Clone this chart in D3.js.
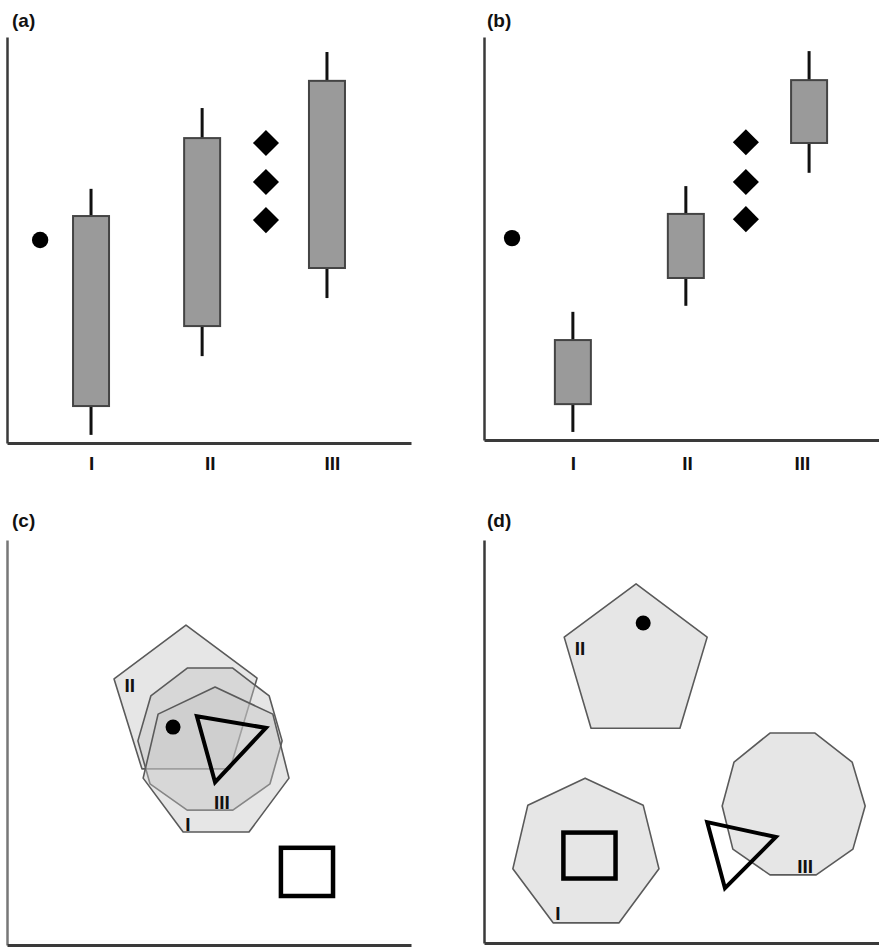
<!DOCTYPE html>
<html>
<head>
<meta charset="utf-8">
<script src="https://cdn.jsdelivr.net/npm/d3@7"></script>
<style>
  html, body { margin: 0; padding: 0; background: #fff; }
  svg { display: block; }
  text { font-family: "Liberation Sans", Arial, sans-serif; font-weight: bold; fill: #111; }
</style>
</head>
<body>
<svg id="chart" width="879" height="947"></svg>
<script>
// ---------- DATA ----------
const panelLabels = ["(a)", "(b)", "(c)", "(d)"];
const boxCategories = ["I", "II", "III"];

// Panel (a) box plots (units 0..100)
const aCenters = [20.8, 48.3, 79.2];
const aMin = [2.0, 21.4, 35.7];
const aQ1 = [9.1, 28.8, 43.1];
const aQ3 = [55.9, 75.1, 89.2];
const aMax = [62.6, 82.5, 96.3];
const aTickPos = [20.8, 50.2, 80.4];
const aDiamondX = 64.1;
const aDiamondY = [73.9, 64.3, 54.9];
const aDot = [8.2, 50.0];

// Panel (b) box plots
const bCenters = [22.5, 51.1, 82.3];
const bMin = [2.0, 33.3, 66.3];
const bQ1 = [8.9, 40.2, 73.7];
const bQ3 = [24.8, 56.1, 89.3];
const bMax = [31.8, 63.0, 96.5];
const bTickPos = [22.5, 51.4, 80.5];
const bDiamondX = 66.3;
const bDiamondY = [73.9, 64.0, 54.8];
const bDot = [7.1, 50.1];

// Panel (c) polygons (vertex lists, units 0..100)
const cPentagonII = [[44.3, 79.0], [61.9, 65.9], [55.2, 43.5], [33.4, 43.5], [26.5, 65.7]];
const cDecagonIII = [[44.7, 68.4], [55.8, 68.4], [64.9, 61.5], [68.1, 50.4], [65.1, 39.8],
                     [55.9, 33.3], [44.6, 33.3], [35.4, 39.8], [32.4, 50.4], [35.6, 61.5]];
const cHeptagonI = [[51.5, 63.7], [65.8, 57.0], [69.8, 41.2], [59.9, 27.9], [43.6, 27.9],
                    [33.7, 41.2], [37.4, 57.0]];
const cDot = [41.1, 53.8];
const cTriangle = [[47.0, 56.5], [64.1, 53.6], [51.5, 40.2]];
const cSquare = [[67.8, 24.0], [80.7, 12.1]];
const cLabels = [["II", 30.4, 64.2], ["III", 53.2, 35.3], ["I", 44.8, 29.9]];

// Panel (d) polygons
const dPentagonII = [[38.5, 89.1], [56.5, 75.9], [49.6, 53.3], [27.1, 53.3], [20.3, 75.9]];
const dHeptagonI = [[25.6, 40.9], [40.3, 34.2], [44.3, 18.4], [34.2, 5.0], [17.5, 5.0],
                    [7.3, 18.4], [11.1, 34.2]];
const dDecagonIII = [[72.4, 52.1], [83.8, 52.1], [93.2, 44.9], [96.5, 34.0], [93.4, 23.3],
                     [84.1, 16.9], [72.4, 16.9], [63.0, 23.3], [60.3, 34.0], [63.3, 44.9]];
const dDot = [40.3, 79.4];
const dTriangle = [[56.5, 30.0], [73.9, 26.3], [61.0, 13.6]];
const dSquare = [[20.1, 27.4], [33.3, 16.0]];
const dLabels = [["II", 24.3, 73.2], ["I", 18.7, 7.4], ["III", 81.3, 19.1]];

// ---------- LAYOUT ----------
const panels = [
  { x0: 7,   x1: 411, yb: 443, yt: 37,  lx: 12,  ly: 27 },
  { x0: 484, x1: 879, yb: 440, yt: 37,  lx: 487, ly: 27 },
  { x0: 7,   x1: 411, yb: 945, yt: 540, lx: 12,  ly: 527 },
  { x0: 484, x1: 879, yb: 943, yt: 540, lx: 487, ly: 527 }
];

const svg = d3.select("#chart");
const AXIS_COLOR = "#3a3a3a";

function makeScales(p) {
  return {
    x: d3.scaleLinear().domain([0, 100]).range([p.x0, p.x1]),
    y: d3.scaleLinear().domain([0, 100]).range([p.yb, p.yt])
  };
}

function drawAxes(g, p, s, tickPos, tickLabels, leftColor) {
  // y axis (no ticks)
  const yAx = g.append("g")
    .attr("transform", `translate(${p.x0},0)`)
    .call(d3.axisLeft(s.y).tickValues([]).tickSizeOuter(0));
  yAx.select(".domain").attr("stroke", leftColor || AXIS_COLOR).attr("stroke-width", 2.5);

  const xAxis = d3.axisBottom(s.x).tickSizeOuter(0).tickSizeInner(0);
  if (tickPos) {
    xAxis.tickValues(tickPos).tickFormat((d, i) => tickLabels[i]).tickPadding(471 - p.yb - 14);
  } else {
    xAxis.tickValues([]);
  }
  const xAx = g.append("g")
    .attr("transform", `translate(0,${p.yb})`)
    .call(xAxis);
  xAx.select(".domain").attr("stroke", AXIS_COLOR).attr("stroke-width", 3);
  xAx.selectAll("text")
    .attr("font-size", 19)
    .attr("font-family", "'Liberation Sans', Arial, sans-serif")
    .attr("font-weight", "bold")
    .attr("fill", "#111");
}

function drawBoxPanel(p, centers, mins, q1s, q3s, maxs, tickPos, dX, dY, dot) {
  const s = makeScales(p);
  const g = svg.append("g");
  const rows = centers.map((c, i) => ({ c, min: mins[i], q1: q1s[i], q3: q3s[i], max: maxs[i] }));
  const bw = 36;
  // whiskers
  g.selectAll(".wh").data(rows).enter().append("line")
    .attr("x1", d => s.x(d.c)).attr("x2", d => s.x(d.c))
    .attr("y1", d => s.y(d.min)).attr("y2", d => s.y(d.max))
    .attr("stroke", "#111").attr("stroke-width", 3);
  // boxes
  g.selectAll(".bx").data(rows).enter().append("rect")
    .attr("x", d => s.x(d.c) - bw / 2)
    .attr("width", bw)
    .attr("y", d => s.y(d.q3))
    .attr("height", d => s.y(d.q1) - s.y(d.q3))
    .attr("fill", "#9a9a9a").attr("stroke", "#444").attr("stroke-width", 2);
  // diamonds
  const diamond = d3.symbol().type(d3.symbolSquare).size(340);
  g.selectAll(".dm").data(dY).enter().append("path")
    .attr("d", diamond)
    .attr("transform", d => `translate(${s.x(dX)},${s.y(d)}) rotate(45)`)
    .attr("fill", "#000");
  // dot
  g.append("circle").attr("cx", s.x(dot[0])).attr("cy", s.y(dot[1])).attr("r", 8.2).attr("fill", "#000");
  drawAxes(g, p, s, tickPos, boxCategories);
}

function drawShapePanel(p, polys, dot, tri, sq, labels, leftColor) {
  const s = makeScales(p);
  const g = svg.append("g");
  const line = d3.line().x(d => s.x(d[0])).y(d => s.y(d[1])).curve(d3.curveLinearClosed);
  g.selectAll(".poly").data(polys).enter().append("path")
    .attr("d", line)
    .attr("fill", "#c4c4c4").attr("fill-opacity", 0.42)
    .attr("stroke", "#5a5a5a").attr("stroke-width", 1.6).attr("stroke-linejoin", "round");
  g.selectAll(".lbl").data(labels).enter().append("text")
    .attr("x", d => s.x(d[1])).attr("y", d => s.y(d[2]))
    .attr("dy", "0.36em")
    .attr("text-anchor", "middle")
    .attr("font-size", 19)
    .attr("fill", "#222")
    .text(d => d[0]);
  g.append("circle").attr("cx", s.x(dot[0])).attr("cy", s.y(dot[1])).attr("r", 7.5).attr("fill", "#000");
  g.append("path").attr("d", line(tri))
    .attr("fill", "none").attr("stroke", "#000").attr("stroke-width", 4).attr("stroke-linejoin", "miter");
  g.append("rect")
    .attr("x", s.x(sq[0][0])).attr("y", s.y(sq[0][1]))
    .attr("width", s.x(sq[1][0]) - s.x(sq[0][0]))
    .attr("height", s.y(sq[1][1]) - s.y(sq[0][1]))
    .attr("fill", "none").attr("stroke", "#000").attr("stroke-width", 4.5);
  drawAxes(g, p, s, null, null, leftColor);
}

drawBoxPanel(panels[0], aCenters, aMin, aQ1, aQ3, aMax, aTickPos, aDiamondX, aDiamondY, aDot);
drawBoxPanel(panels[1], bCenters, bMin, bQ1, bQ3, bMax, bTickPos, bDiamondX, bDiamondY, bDot);
drawShapePanel(panels[2], [cPentagonII, cDecagonIII, cHeptagonI], cDot, cTriangle, cSquare, cLabels, "#777");
drawShapePanel(panels[3], [dPentagonII, dHeptagonI, dDecagonIII], dDot, dTriangle, dSquare, dLabels);

// panel labels
svg.selectAll(".plabel").data(panels).enter().append("text")
  .attr("x", d => d.lx).attr("y", d => d.ly)
  .attr("font-size", 19)
  .text((d, i) => panelLabels[i]);
</script>
</body>
</html>
